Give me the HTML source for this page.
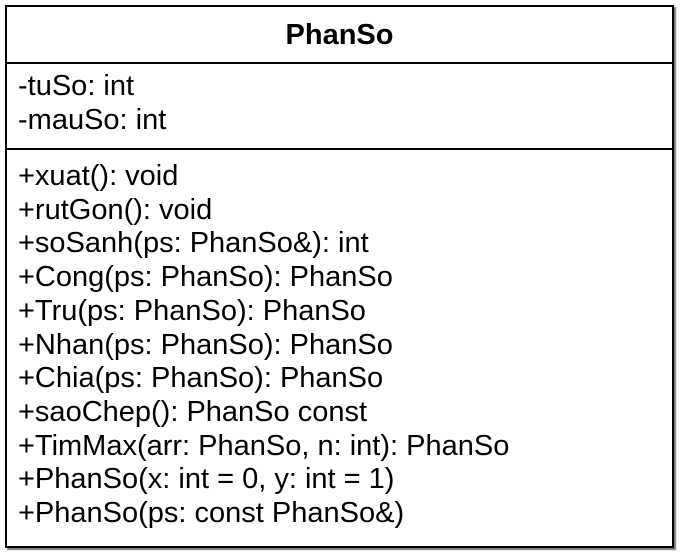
<!DOCTYPE html>
<html><head><style>
html,body{margin:0;padding:0;width:680px;height:553px;background:#fff;overflow:hidden}
.box{position:absolute;left:5px;top:5px;width:665px;height:539px;border:2px solid #000;box-shadow:2px 2px 1px #777;background:#fff;font-family:"Liberation Sans",sans-serif;color:#000}
.t{position:absolute;left:0;right:0;top:14px;text-align:center;font-weight:bold;font-size:29px;line-height:28px}
.d{position:absolute;left:0;right:0;height:2px;background:#000}
.l{position:absolute;left:11px;font-size:29px;line-height:34px;white-space:nowrap}
</style></head><body>
<div class="box">
<div class="t">PhanSo</div>
<div class="d" style="top:55px"></div>
<div class="l" style="top:62px">-tuSo: int<br>-mauSo: int</div>
<div class="d" style="top:141px"></div>
<div class="l" style="top:153px;line-height:33.7px">+xuat(): void<br>+rutGon(): void<br>+soSanh(ps: PhanSo&amp;): int<br>+Cong(ps: PhanSo): PhanSo<br>+Tru(ps: PhanSo): PhanSo<br>+Nhan(ps: PhanSo): PhanSo<br>+Chia(ps: PhanSo): PhanSo<br>+saoChep(): PhanSo const<br>+TimMax(arr: PhanSo, n: int): PhanSo<br>+PhanSo(x: int = 0, y: int = 1)<br>+PhanSo(ps: const PhanSo&amp;)</div>
</div>
</body></html>
